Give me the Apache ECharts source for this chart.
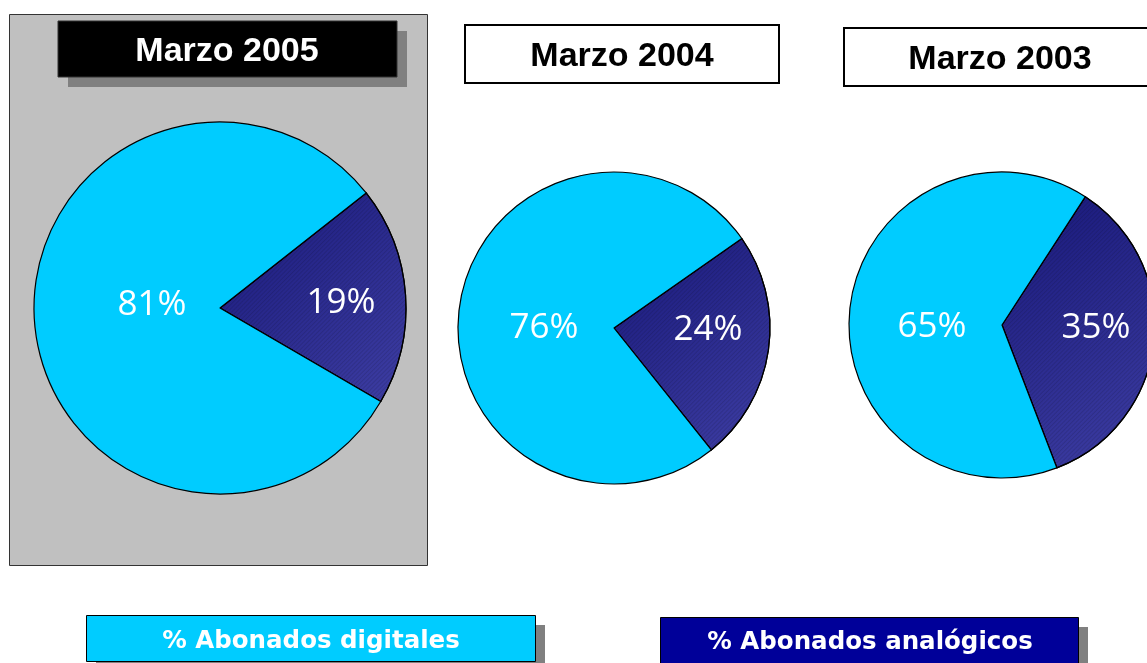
<!DOCTYPE html>
<html>
<head>
<meta charset="utf-8">
<script src="https://cdn.jsdelivr.net/npm/echarts@6/dist/echarts.min.js"></script>
<style>
html,body{margin:0;padding:0;background:#fff;}
#c{width:1147px;height:663px;}
</style>
</head>
<body>
<div id="c"></div>
<script>
// ---- data ----
const periods = ['Marzo 2005', 'Marzo 2004', 'Marzo 2003'];
const categories = ['% Abonados analógicos', '% Abonados digitales'];
const analogPct = [19, 24, 35];
const digitalPct = [81, 76, 65];

// ---- layout (positions / styles only) ----
const pieLayout = [
  { center: [220, 308], r: 186, start: 38.2, aLab: { start: 36.6, r: 236 }, dLab: { start: 31.7, r: 130 } },
  { center: [614, 328], r: 156, start: 35.0, aLab: { start: 41.9, r: 182 }, dLab: { start: 43.2, r: 134 } },
  { center: [1002, 325], r: 153, start: 57.0, aLab: { start: 61.1, r: 182 }, dLab: { start: 64.7, r: 134 } }
];
const digitalColor = '#00CCFF';
const analogFill = {
  type: 'linear', x: 0, y: 0, x2: 1, y2: 1,
  colorStops: [{ offset: 0, color: '#18187A' }, { offset: 1, color: '#3E3EA4' }]
};
const analogLegendColor = '#000099';

const chart = echarts.init(document.getElementById('c'), null, { renderer: 'canvas' });

const labelStyle = { position: 'inside', formatter: '{c}%', color: '#fff',
  fontFamily: 'Open Sans', fontSize: 35, fontWeight: 'normal', padding: [10, 0, 0, 0] };

const series = [];
periods.forEach((p, i) => {
  const L = pieLayout[i];
  series.push({
    type: 'pie', name: p, center: L.center, radius: [0, L.r],
    startAngle: L.start, clockwise: true, animation: false, silent: true,
    label: { show: false }, labelLine: { show: false },
    emphasis: { disabled: true },
    data: [
      { name: categories[0], value: analogPct[i],
        itemStyle: { color: analogFill, borderColor: '#000', borderWidth: 1.2,
          decal: { symbol: 'rect', symbolSize: 1, dashArrayX: [[1, 0]], dashArrayY: [1, 2],
                   rotation: -Math.PI / 4, color: 'rgba(0,0,0,0.12)' } } },
      { name: categories[1], value: digitalPct[i],
        itemStyle: { color: digitalColor, borderColor: '#000', borderWidth: 1.2 } }
    ]
  });
  [['aLab', 0], ['dLab', 1]].forEach(([key, which]) => {
    const LL = L[key];
    series.push({
      type: 'pie', center: L.center, radius: [0, LL.r], startAngle: LL.start,
      clockwise: true, animation: false, silent: true, z: 5,
      emphasis: { disabled: true }, labelLine: { show: false },
      itemStyle: { color: 'rgba(0,0,0,0)', borderWidth: 0 },
      label: { show: false },
      data: [
        { name: categories[0], value: analogPct[i], label: Object.assign({ show: which === 0 }, labelStyle) },
        { name: categories[1], value: digitalPct[i], label: Object.assign({ show: which === 1 }, labelStyle) }
      ]
    });
  });
});

const titleFont = 'bold 34px "Liberation Sans", Arial, sans-serif';
const legendFont = 'bold 24.5px "DejaVu Sans", Verdana, sans-serif';

const graphic = [
  // grey panel behind first pie
  { type: 'rect', z: -10, shape: { x: 9.5, y: 14.5, width: 418, height: 551 },
    style: { fill: '#C0C0C0', stroke: '#333', lineWidth: 1 } },
  // title 1 (black with shadow)
  { type: 'rect', z: -5, shape: { x: 68, y: 31, width: 339, height: 56 }, style: { fill: '#808080' } },
  { type: 'rect', z: -4, shape: { x: 58, y: 21, width: 339, height: 56 }, style: { fill: '#000', stroke: '#333', lineWidth: 1 } },
  { type: 'text', z: 10, x: 227, y: 52, style: { text: periods[0], fill: '#fff', font: titleFont, align: 'center', verticalAlign: 'middle' } },
  // title 2
  { type: 'rect', z: -4, shape: { x: 465, y: 25, width: 314, height: 58 }, style: { fill: '#fff', stroke: '#000', lineWidth: 2 } },
  { type: 'text', z: 10, x: 622, y: 57, style: { text: periods[1], fill: '#000', font: titleFont, align: 'center', verticalAlign: 'middle' } },
  // title 3
  { type: 'rect', z: -4, shape: { x: 844, y: 28, width: 314, height: 58 }, style: { fill: '#fff', stroke: '#000', lineWidth: 2 } },
  { type: 'text', z: 10, x: 1000, y: 60, style: { text: periods[2], fill: '#000', font: titleFont, align: 'center', verticalAlign: 'middle' } },
  // legend: digital
  { type: 'rect', z: -5, shape: { x: 96, y: 625, width: 449, height: 46 }, style: { fill: '#808080' } },
  { type: 'rect', z: -4, shape: { x: 86.5, y: 615.5, width: 449, height: 46 }, style: { fill: digitalColor, stroke: '#000', lineWidth: 1 } },
  { type: 'text', z: 10, x: 311, y: 642, style: { text: categories[1], fill: '#fff', font: legendFont, align: 'center', verticalAlign: 'middle' } },
  // legend: analog
  { type: 'rect', z: -5, shape: { x: 670, y: 627, width: 418, height: 46 }, style: { fill: '#808080' } },
  { type: 'rect', z: -4, shape: { x: 660.5, y: 617.5, width: 418, height: 46 }, style: { fill: analogLegendColor, stroke: '#000', lineWidth: 1 } },
  { type: 'text', z: 10, x: 870, y: 643, style: { text: categories[0], fill: '#fff', font: legendFont, align: 'center', verticalAlign: 'middle' } }
];

chart.setOption({
  backgroundColor: '#fff',
  animation: false,
  graphic: graphic,
  series: series
});
</script>
</body>
</html>
